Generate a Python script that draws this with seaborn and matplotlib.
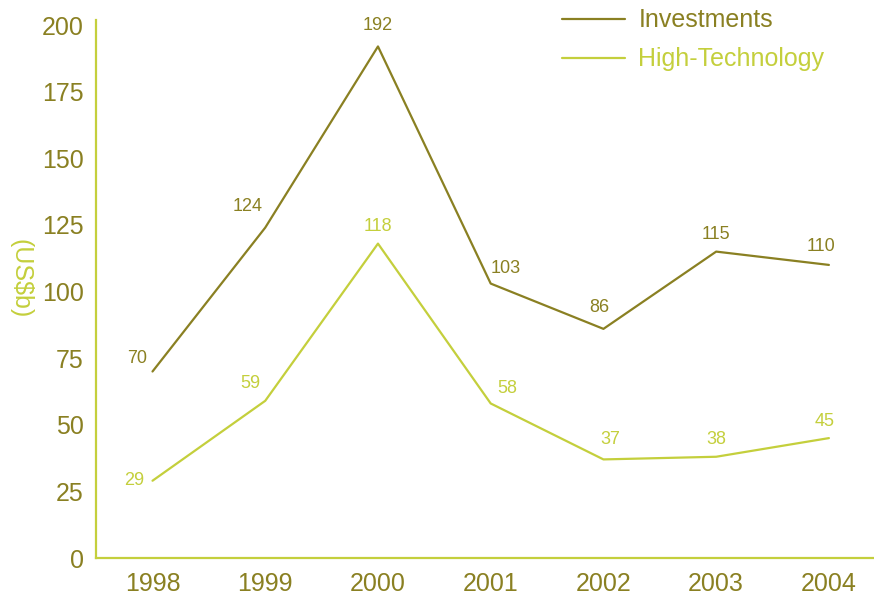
import pandas as pd
import matplotlib
matplotlib.use("Agg")
import matplotlib.pyplot as plt
import seaborn as sns

# data
years = [1998, 1999, 2000, 2001, 2002, 2003, 2004]
investments = [70, 124, 192, 103, 86, 115, 110]
high_tech = [29, 59, 118, 58, 37, 38, 45]

dark = "#8a8022"
lime = "#c4cf3c"

df = pd.DataFrame({
    "year": years * 2,
    "value": investments + high_tech,
    "series": ["Investments"] * len(years) + ["High-Technology"] * len(years),
})

sns.set_style("white")
plt.rcParams["font.family"] = ["Liberation Sans", "DejaVu Sans"]

fig = plt.figure(figsize=(8.74, 6), dpi=100)
ax = fig.add_axes([0.110, 0.07, 0.89, 0.897])

sns.lineplot(data=df, x="year", y="value", hue="series",
             palette={"Investments": dark, "High-Technology": lime},
             linewidth=1.6, ax=ax)

# value labels (offsets in points)
inv_off = [(-11, 3), (-13, 9), (0, 9), (11, 5), (-3, 9), (0, 6), (-6, 7)]
ht_off = [(-13, 0), (-11, 6), (0, 6), (12, 5), (5, 8), (0, 6), (-3, 6)]
for x, y, o in zip(years, investments, inv_off):
    ax.annotate(str(y), (x, y), xytext=o, textcoords="offset points",
                ha="center", va="bottom" if o[1] > 2 else "center",
                fontsize=13, color=dark)
for x, y, o in zip(years, high_tech, ht_off):
    ax.annotate(str(y), (x, y), xytext=o, textcoords="offset points",
                ha="center", va="bottom" if o[1] > 2 else "center",
                fontsize=13, color=lime)

ax.set_xlim(1997.5, 2004.4)
ax.set_ylim(0, 202)
ax.set_yticks(range(0, 201, 25))
ax.set_xticks(years)
ax.set_xlabel("")
ax.set_ylabel("(US$b)", rotation=270, color=lime, fontsize=18)
ax.yaxis.set_label_coords(-0.113, 0.52)

ax.tick_params(axis="both", length=0, colors=dark, labelsize=18)
ax.tick_params(axis="x", pad=10)
ax.tick_params(axis="y", pad=9)
for s in ["top", "right"]:
    ax.spines[s].set_visible(False)
for s in ["left", "bottom"]:
    ax.spines[s].set_color(lime)
    ax.spines[s].set_linewidth(1.6)

leg = ax.legend(loc="upper left", bbox_to_anchor=(0.57, 1.063), frameon=False,
                fontsize=18, handlelength=2.5, handletextpad=0.55, labelspacing=0.6)
leg.get_texts()[0].set_color(dark)
leg.get_texts()[1].set_color(lime)

fig.savefig("out.png", dpi=100)
